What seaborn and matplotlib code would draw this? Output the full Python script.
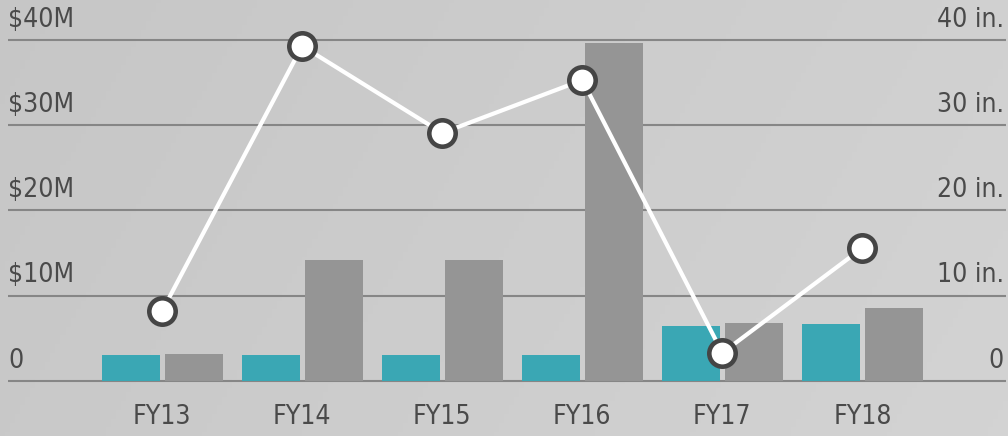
import numpy as np
import pandas as pd
import matplotlib
matplotlib.use("Agg")
import matplotlib.pyplot as plt
import seaborn as sns

# %% data
years = ["FY13", "FY14", "FY15", "FY16", "FY17", "FY18"]
series_names = ["Budget", "Spending"]
budget = [3.0, 3.0, 3.0, 3.0, 6.4, 6.7]          # $M (teal)
spending = [3.2, 14.2, 14.2, 39.6, 6.8, 8.6]     # $M (grey)
rainfall = [8.2, 39.3, 29.1, 35.3, 3.3, 15.6]    # inches (line)
left_ticks = [0, 10, 20, 30, 40]
left_labels = ["0", "$10M", "$20M", "$30M", "$40M"]
right_labels = ["0", "10 in.", "20 in.", "30 in.", "40 in."]

df = pd.DataFrame({
    "year": years * 2,
    "series": [series_names[0]] * 6 + [series_names[1]] * 6,
    "value": budget + spending,
})
line_df = pd.DataFrame({"x": range(len(years)), "rain": rainfall})

# %% style
sns.set_style("white")
plt.rcParams["font.family"] = ["DejaVu Sans"]
plt.rcParams["font.stretch"] = "condensed"
text_col = "#4a4a4a"
grid_col = "#868686"
fs = 19

fig = plt.figure(figsize=(10.08, 4.36), dpi=100)

# background gradient
bg = fig.add_axes([0, 0, 1, 1], zorder=-10)
gx = np.linspace(0, 1, 200)
gy = np.linspace(0, 1, 100)
GX, GY = np.meshgrid(gx, gy)
grad = 0.775 + 0.04 * GX + 0.01 * GY
bg.imshow(grad, cmap="gray", vmin=0, vmax=1, aspect="auto", extent=[0, 1, 0, 1])
bg.axis("off")

ax = fig.add_axes([8 / 1008, (436 - 398) / 436, 998 / 1008, 375 / 436])
ax.patch.set_alpha(0)
sns.barplot(data=df, x="year", y="value", hue="series", ax=ax,
            palette=["#3aa7b4", "#959595"], width=0.9, gap=0.08,
            saturation=1, legend=False, linewidth=0)
ax.set_xlim(-1.10, 6.025)
ax.set_ylim(-2, 42)
ax.set_axisbelow(True)
for t in left_ticks:
    ax.axhline(t, color=grid_col, lw=1.5, zorder=0)
ax.set_yticks([])
ax.set_xlabel("")
ax.set_ylabel("")
ax.tick_params(axis="x", length=0, pad=4, labelsize=fs, labelcolor=text_col)
for s in ax.spines.values():
    s.set_visible(False)

for t, lab, rlab in zip(left_ticks, left_labels, right_labels):
    ax.text(0.0, t + 0.85, lab, transform=ax.get_yaxis_transform(),
            ha="left", va="bottom", fontsize=fs, color=text_col)
    ax.text(0.998, t + 0.85, rlab, transform=ax.get_yaxis_transform(),
            ha="right", va="bottom", fontsize=fs, color=text_col)

ax2 = ax.twinx()
ax2.set_ylim(-2, 42)
sns.lineplot(data=line_df, x="x", y="rain", ax=ax2, color="white", lw=3,
             marker="o", markersize=19, markerfacecolor="white",
             markeredgecolor="#454545", markeredgewidth=3.3)
ax2.set_yticks([])
ax2.set_ylabel("")
ax2.set_xlabel("")
for s in ax2.spines.values():
    s.set_visible(False)

fig.savefig("out.png", dpi=100)
